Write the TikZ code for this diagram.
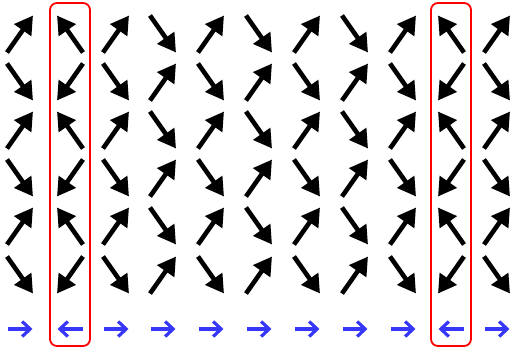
\documentclass[tikz,border=0pt]{standalone}
\usetikzlibrary{arrows.meta}
\definecolor{spinblue}{RGB}{55,55,250}
\tikzset{
  spin/.style={line width=4.6pt, -{Triangle[length=18pt 0 0,width=20pt 0 0]}},
  flux/.style={spinblue, line width=3.2pt, -{Straight Barb[length=8pt 0 0,width=15pt 0 0]}},
  framebox/.style={red, line width=1.8pt, rounded corners=7pt}
}
\begin{document}
\begin{tikzpicture}[x=1pt,y=-1pt]
\useasboundingbox (0,0) rectangle (511,349);
% black spin arrows: type 0 = NE/SE, 1 = SE/NE, 2 = NW/SW
\foreach \x/\t in {20/0,70/2,116/0,163/1,211/0,259/1,307/0,355/1,403/0,451/2,497/0}{
  \foreach \y [count=\r] in {34,82,130,178,226,275}{
    \pgfmathsetmacro{\tt}{ifthenelse(\t==1,1,0)}
    \pgfmathsetmacro{\vs}{ifthenelse(mod(\r+\tt,2)==1,-1,1)}
    \pgfmathsetmacro{\h}{ifthenelse(\t==2,-1,1)}
    \coordinate (tail) at ({\x-\h*13},{\y-\vs*18.5});
    \coordinate (tip) at ({\x+\h*13},{\y+\vs*18.5});
    \draw[spin] (tail) -- (tip);
  }
  \pgfmathsetmacro{\hb}{ifthenelse(\t==2,-1,1)}
  \coordinate (btail) at ({\x-\hb*12.5},329);
  \coordinate (btip) at ({\x+\hb*12.5},329);
  \draw[flux] (btail) -- (btip);
}
\draw[framebox] (50,3) rectangle (90,346);
\draw[framebox] (431,3) rectangle (471,346);
\end{tikzpicture}
\end{document}
